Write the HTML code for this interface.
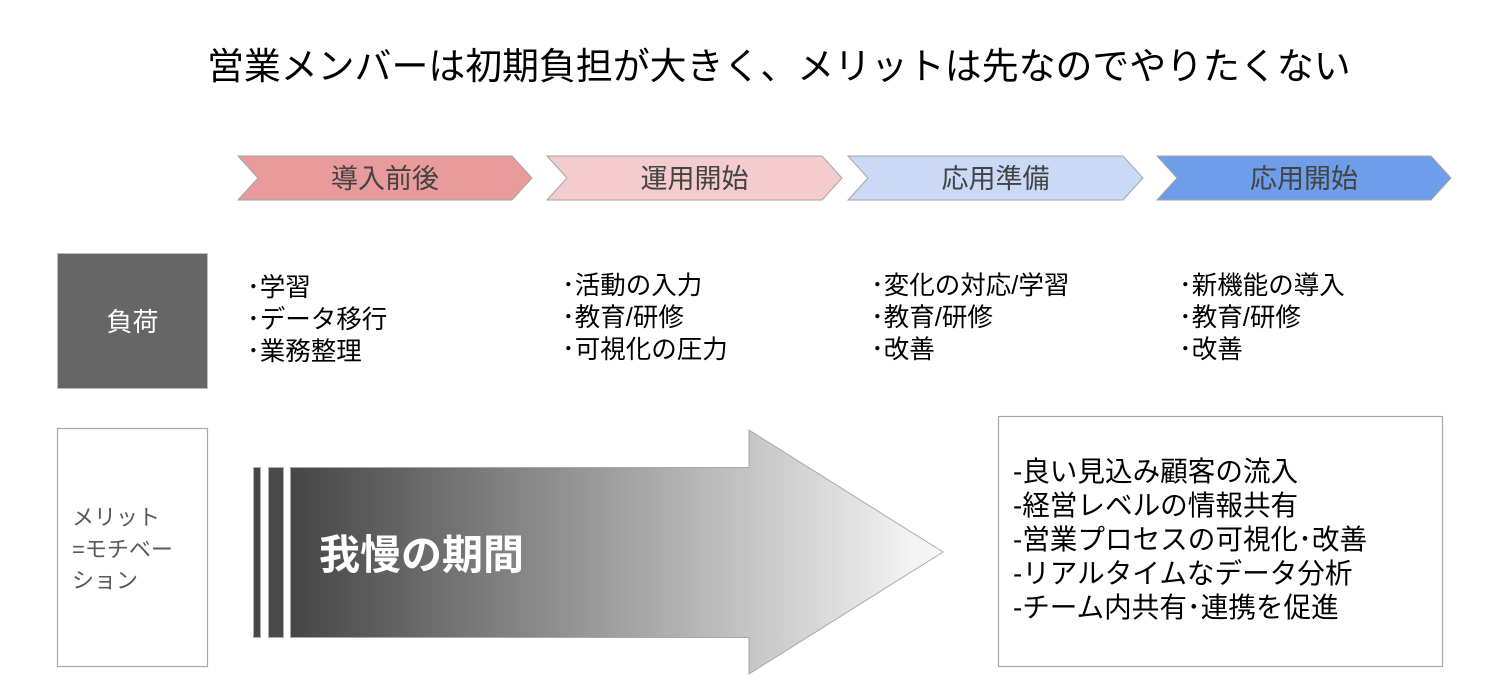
<!DOCTYPE html>
<html>
<head>
<meta charset="utf-8">
<style>
  html, body { margin:0; padding:0; background:#fff; }
  #wrap { position:relative; width:1500px; height:698px; overflow:hidden; background:#fff;
    font-family: "Liberation Sans", "Noto Sans CJK JP", sans-serif; }
  .t { position:absolute; white-space:nowrap; }
  svg { position:absolute; left:0; top:0; }
</style>
</head>
<body>
<div id="wrap">
<svg width="1500" height="698" viewBox="0 0 1500 698">
  <defs>
    <linearGradient id="g" gradientUnits="userSpaceOnUse" x1="290" y1="0" x2="943" y2="0">
      <stop offset="0" stop-color="#454545"/>
      <stop offset="1" stop-color="#fbfbfb"/>
    </linearGradient>
  </defs>
  <!-- chevrons -->
  <polygon points="238,156 512,156 532,178 512,200 238,200 258,178" fill="#e99a9b" stroke="#a5a5a5" stroke-width="1"/>
  <polygon points="547,156 822,156 842,178 822,200 547,200 567,178" fill="#f4cccd" stroke="#a5a5a5" stroke-width="1"/>
  <polygon points="848,156 1123,156 1143,178 1123,200 848,200 868,178" fill="#c9d9f6" stroke="#a5a5a5" stroke-width="1"/>
  <polygon points="1157,156 1431,156 1451,178 1431,200 1157,200 1177,178" fill="#6e9de9" stroke="#a5a5a5" stroke-width="1"/>
  <!-- load box -->
  <rect x="57.5" y="253.5" width="150" height="135" fill="#666666" stroke="#bdbdbd" stroke-width="1"/>
  <!-- merit box -->
  <rect x="57.5" y="428.5" width="150" height="238" fill="#ffffff" stroke="#a8a8a8" stroke-width="1.2"/>
  <!-- big arrow -->
  <rect x="253.5" y="467.5" width="7" height="170" fill="#474747" stroke="#b0b0b0" stroke-width="1"/>
  <rect x="268.5" y="467.5" width="15" height="170" fill="#4a4a4a" stroke="#b0b0b0" stroke-width="1"/>
  <polygon points="290.5,467.5 749,467.5 749,430 943,552 749,674 749,637.5 290.5,637.5" fill="url(#g)" stroke="#a8a8a8" stroke-width="1"/>
  <!-- right box -->
  <rect x="998.5" y="416.5" width="444" height="250" fill="#ffffff" stroke="#a8a8a8" stroke-width="1.2"/>
</svg>

<!-- title -->
<div class="t" style="left:207px; top:45px; font-size:36.9px; line-height:44px; color:#000;">営業メンバーは初期負担が大きく、メリットは先なのでやりたくない</div>

<!-- chevron labels -->
<div class="t" style="left:258px; width:254px; top:162px; font-size:27px; line-height:34px; color:#434343; text-align:center;">導入前後</div>
<div class="t" style="left:567px; width:255px; top:162px; font-size:27px; line-height:34px; color:#434343; text-align:center;">運用開始</div>
<div class="t" style="left:868px; width:255px; top:162px; font-size:27px; line-height:34px; color:#434343; text-align:center;">応用準備</div>
<div class="t" style="left:1177px; width:254px; top:162px; font-size:27px; line-height:34px; color:#434343; text-align:center;">応用開始</div>

<!-- load label -->
<div class="t" style="left:57px; width:151px; top:305px; font-size:26px; line-height:34px; color:#ffffff; text-align:center;">負荷</div>

<!-- bullets -->
<div class="t" style="left:247px; top:272px; font-size:25.5px; line-height:32px; color:#000;">･学習<br>･データ移行<br>･業務整理</div>
<div class="t" style="left:562px; top:270px; font-size:25.5px; line-height:32px; color:#000;">･活動の入力<br>･教育/研修<br>･可視化の圧力</div>
<div class="t" style="left:871px; top:270px; font-size:25.5px; line-height:32px; color:#000;">･変化の対応/学習<br>･教育/研修<br>･改善</div>
<div class="t" style="left:1179px; top:270px; font-size:25.5px; line-height:32px; color:#000;">･新機能の導入<br>･教育/研修<br>･改善</div>

<!-- merit label -->
<div class="t" style="left:72px; top:502px; font-size:22px; line-height:31.5px; color:#595959;">メリット<br>=モチベー<br>ション</div>

<!-- arrow label -->
<div class="t" style="left:319px; top:531px; font-size:41px; line-height:48px; color:#ffffff; font-weight:bold;">我慢の期間</div>

<!-- right box text -->
<div class="t" style="left:1013px; top:455px; font-size:27.6px; line-height:34px; color:#000;">-良い見込み顧客の流入<br>-経営レベルの情報共有<br>-営業プロセスの可視化･改善<br>-リアルタイムなデータ分析<br>-チーム内共有･連携を促進</div>
</div>
</body>
</html>
